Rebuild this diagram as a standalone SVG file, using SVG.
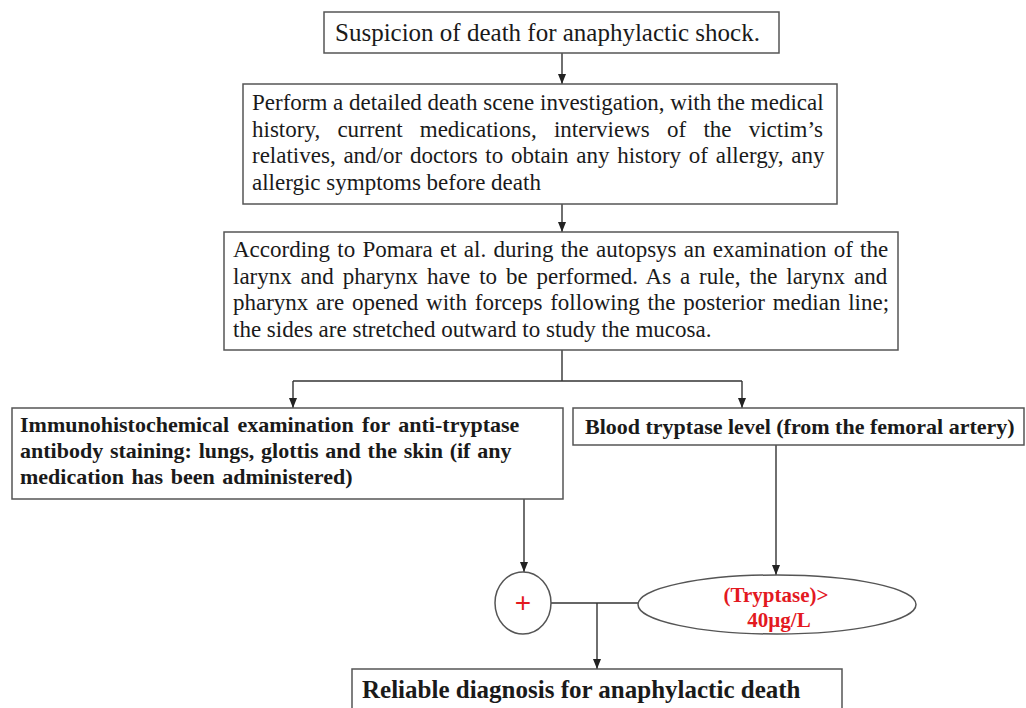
<svg xmlns="http://www.w3.org/2000/svg" width="1026" height="708" viewBox="0 0 1026 708">
<defs>
<style>
.box{fill:#fff;stroke:#555;stroke-width:1.5}
.t{font-family:"Liberation Serif","Times New Roman",serif;font-size:23px;fill:#1a1a1a}
.b{font-family:"Liberation Serif","Times New Roman",serif;font-weight:bold;font-size:22px;fill:#1a1a1a}
.red{font-family:"Liberation Serif","Times New Roman",serif;font-weight:bold;font-size:21px;fill:#e3191f}
.ln{fill:none;stroke:#333;stroke-width:1.4}
</style>
<marker id="ah" markerUnits="userSpaceOnUse" markerWidth="10" markerHeight="10" viewBox="0 0 10 10" refX="10" refY="5" orient="auto">
<path d="M0,1 L10,5 L0,9 Z" fill="#222"/>
</marker>
</defs>
<rect width="1026" height="708" fill="#fff"/>

<g id="connectors">
<line class="ln" x1="562" y1="53" x2="562" y2="84" marker-end="url(#ah)"/>
<line class="ln" x1="562" y1="204" x2="562" y2="232" marker-end="url(#ah)"/>
<polyline class="ln" points="562,350 562,381"/>
<polyline class="ln" points="293,381 742,381"/>
<line class="ln" x1="293" y1="381" x2="293" y2="408" marker-end="url(#ah)"/>
<line class="ln" x1="742" y1="381" x2="742" y2="408" marker-end="url(#ah)"/>
<line class="ln" x1="524" y1="499" x2="524" y2="572" marker-end="url(#ah)"/>
<line class="ln" x1="776" y1="445" x2="776" y2="575" marker-end="url(#ah)"/>
<line class="ln" x1="551" y1="603" x2="638" y2="603"/>
<line class="ln" x1="597" y1="603" x2="597" y2="669" marker-end="url(#ah)"/>
</g>

<g id="n1">
<rect class="box" x="324" y="12" width="455" height="41"/>
<text class="t" x="335" y="41" style="font-size:25px">Suspicion of death for anaphylactic shock.</text>
</g>

<g id="n2">
<rect class="box" x="243" y="84" width="594" height="120"/>
<text class="t" x="252" y="110">Perform a detailed death scene investigation, with the medical</text>
<text class="t" x="252" y="137" word-spacing="11.5">history, current medications, interviews of the victim’s</text>
<text class="t" x="252" y="163" word-spacing="2">relatives, and/or doctors to obtain any history of allergy, any</text>
<text class="t" x="252" y="190">allergic symptoms before death</text>
</g>

<g id="n3">
<rect class="box" x="224" y="232" width="674" height="118"/>
<text class="t" x="233" y="257" word-spacing="1.5">According to Pomara et al. during the autopsys an examination of the</text>
<text class="t" x="233" y="283.5" word-spacing="3.1">larynx and pharynx have to be performed. As a rule, the larynx and</text>
<text class="t" x="233" y="310" word-spacing="2">pharynx are opened with forceps following the posterior median line;</text>
<text class="t" x="233" y="336.5">the sides are stretched outward to study the mucosa.</text>
</g>

<g id="n4">
<rect class="box" x="12" y="408" width="551" height="91"/>
<text class="b" x="20" y="432" word-spacing="3">Immunohistochemical examination for anti-tryptase</text>
<text class="b" x="20" y="458" word-spacing="1.3">antibody staining: lungs, glottis and the skin (if any</text>
<text class="b" x="20" y="484" word-spacing="2">medication has been administered)</text>
</g>

<g id="n5">
<rect class="box" x="573" y="408" width="451" height="37"/>
<text class="b" x="585" y="434">Blood tryptase level (from the femoral artery)</text>
</g>

<g id="n6">
<ellipse class="box" cx="523" cy="603" rx="28" ry="31"/>
<text class="red" x="523" y="612" text-anchor="middle" style="font-weight:normal;font-size:28px;font-family:'Liberation Sans',Arial,sans-serif">+</text>
</g>

<g id="n7">
<ellipse class="box" cx="777" cy="604.5" rx="139" ry="29.5"/>
<text class="red" x="776" y="602" text-anchor="middle">(Tryptase)&gt;</text>
<text class="red" x="779" y="627" text-anchor="middle">40µg/L</text>
</g>

<g id="n8">
<rect class="box" x="352" y="669" width="490" height="60"/>
<text class="b" x="362" y="698" style="font-size:25px">Reliable diagnosis for anaphylactic death</text>
</g>
</svg>
